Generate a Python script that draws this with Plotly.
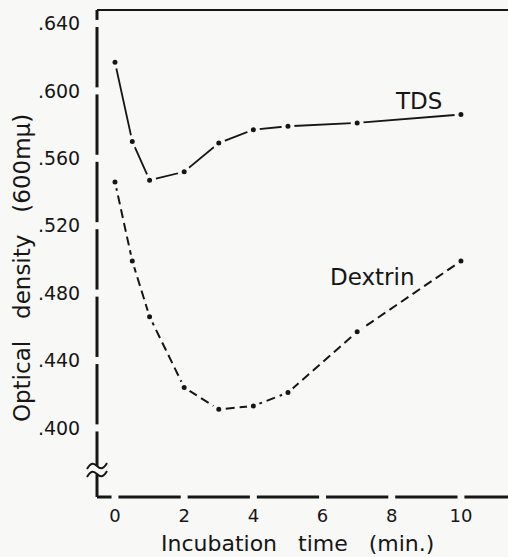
import plotly.graph_objects as go

# ---- data ----
time_min = [0, 0.5, 1, 2, 3, 4, 5, 7, 10]
tds = [0.617, 0.570, 0.547, 0.552, 0.569, 0.577, 0.579, 0.581, 0.586]
dextrin = [0.546, 0.499, 0.466, 0.424, 0.411, 0.413, 0.421, 0.457, 0.499]

x_ticks = [0, 2, 4, 6, 8, 10]
x_ticktext = ["0", "2", "4", "6", "8", "10"]
y_ticks = [0.400, 0.440, 0.480, 0.520, 0.560, 0.600, 0.640]
y_ticktext = [".400", ".440", ".480", ".520", ".560", ".600", ".640"]

series_labels = ["TDS", "Dextrin"]
label_pos = [(8.76, 0.594), (7.43, 0.4895)]

x_range = [-0.52, 11.36]
y_range = [0.359, 0.648]
y_break = 0.375

INK = "#161616"
BG = "#f8f8f6"
FONT = "DejaVu Sans"

fig = go.Figure()

marker_style = dict(size=9, color=INK, line=dict(color=BG, width=4))
fig.add_trace(go.Scatter(x=time_min, y=tds, mode="lines+markers",
                         line=dict(color=INK, width=1.8),
                         marker=marker_style, showlegend=False))
fig.add_trace(go.Scatter(x=time_min, y=dextrin, mode="lines+markers",
                         line=dict(color=INK, width=2, dash="9px,5px"),
                         marker=marker_style, showlegend=False))

shapes = []
AXW = 3
# top frame line
shapes.append(dict(type="line", xref="paper", yref="paper", x0=0, x1=1, y0=1, y1=1,
                   line=dict(color=INK, width=2)))
# y axis line broken at each tick
gy = 0.0021
ys = [y_range[1]] + [v for t in sorted(y_ticks, reverse=True) for v in (t + gy, t - gy)]
ys += [y_break + 0.0025]
for i in range(0, len(ys) - 1, 2):
    shapes.append(dict(type="line", xref="paper", yref="y", x0=0, x1=0,
                       y0=ys[i], y1=ys[i + 1], line=dict(color=INK, width=AXW)))
shapes.append(dict(type="line", xref="paper", yref="y", x0=0, x1=0,
                   y0=y_break - 0.0025, y1=y_range[0], line=dict(color=INK, width=AXW)))
# break symbol (two tildes)
for off in (4, -4):
    shapes.append(dict(type="path", xref="paper", yref="y", xsizemode="pixel", ysizemode="pixel",
                       xanchor=0, yanchor=y_break,
                       path=f"M -10,{off-3} C -6,{off+4} -3,{off+3} 0,{off} S 6,{off-4} 10,{off+3}",
                       line=dict(color=INK, width=2)))
# x axis line broken at each tick
gx = 0.1
xs = [x_range[0]] + [v for t in x_ticks for v in (t - gx, t + gx)] + [x_range[1]]
for i in range(0, len(xs) - 1, 2):
    shapes.append(dict(type="line", xref="x", yref="paper", x0=xs[i], x1=xs[i + 1],
                       y0=0, y1=0, line=dict(color=INK, width=AXW)))

annotations = []
for name, (lx, ly) in zip(series_labels, label_pos):
    annotations.append(dict(x=lx, y=ly, xref="x", yref="y", text=name, showarrow=False,
                            font=dict(family=FONT, size=23, color=INK)))
annotations.append(dict(x=0.487, y=0, xref="paper", yref="paper", yshift=-46,
                        xanchor="center", yanchor="middle",
                        text="Incubation   time   (min.)", showarrow=False,
                        font=dict(family=FONT, size=22, color=INK)))
annotations.append(dict(x=0, y=0.47, xref="paper", yref="paper", xshift=-75,
                        xanchor="center", yanchor="middle",
                        text="Optical   density   (600mμ)", textangle=-90, showarrow=False,
                        font=dict(family=FONT, size=23, color=INK)))

fig.update_layout(
    width=508, height=557,
    margin=dict(l=97, r=0, t=10, b=60),
    paper_bgcolor=BG, plot_bgcolor=BG,
    shapes=shapes, annotations=annotations,
    xaxis=dict(range=x_range, tickvals=x_ticks, ticktext=x_ticktext, showgrid=False,
               zeroline=False, showline=False, ticks="outside", ticklen=2,
               tickcolor="rgba(0,0,0,0)", tickfont=dict(family=FONT, size=18, color=INK)),
    yaxis=dict(range=y_range, tickvals=y_ticks, ticktext=y_ticktext, showgrid=False,
               zeroline=False, showline=False, ticks="outside", ticklen=12,
               tickcolor="rgba(0,0,0,0)", tickfont=dict(family=FONT, size=19, color=INK)),
)

fig.write_html("out.html")
